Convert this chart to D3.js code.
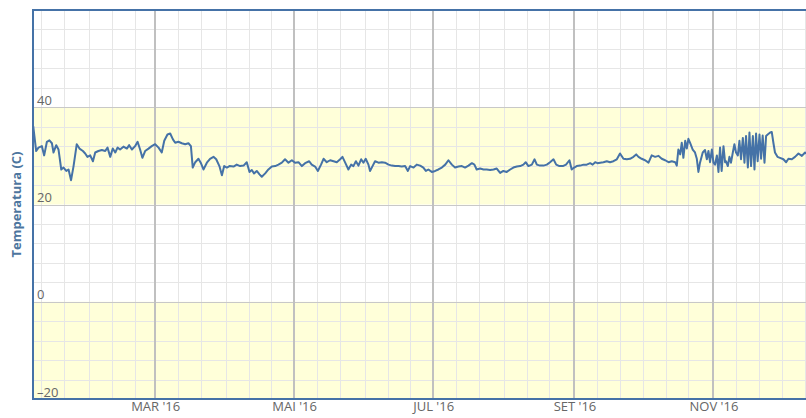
<!DOCTYPE html>
<html>
<head>
<meta charset="utf-8">
<script src="https://cdn.jsdelivr.net/npm/d3@7"></script>
<style>
  html, body { margin: 0; padding: 0; background: #fff; overflow: hidden; }
  svg { display: block; font-family: "Open Sans", "Liberation Sans", Arial, sans-serif; }
</style>
</head>
<body>
<svg id="chart" width="806" height="418"></svg>
<script>
// Daily temperature readings for 2016 (day of year, 0 = 1 Jan; fractions = time of day)
const dayOfYear = [
  6.5, 7.8, 8.8, 10.3, 11.3, 12.5, 13.6, 14.7, 15.4, 16.6, 17.6, 18.8, 19.8, 21.0, 22.0, 23.1,
  24.2, 25.6, 26.8, 28.3, 29.3, 30.3, 31.5, 32.7, 33.7, 35.1, 36.6, 38.1, 39.1, 40.3, 41.4, 42.5,
  43.5, 44.6, 46.1, 47.6, 48.6, 49.8, 51.2, 52.3, 53.4, 54.4, 55.6, 57.1, 58.5, 60.0, 61.5, 62.9,
  64.0, 65.4, 66.6, 67.8, 68.8, 70.2, 71.7, 73.2, 74.6, 75.7, 76.5, 77.6, 79.0, 80.0, 81.2, 82.7,
  84.1, 85.6, 86.8, 88.2, 89.3, 90.3, 91.5, 92.6, 94.4, 95.8, 97.3, 98.8, 100.2, 101.4, 102.4, 103.4,
  104.6, 105.8, 106.8, 108.3, 109.7, 111.2, 112.7, 114.1, 115.6, 117.0,
  118.5, 120.0, 121.4, 122.9, 124.4, 125.8, 127.6, 128.7, 130.2, 131.4, 132.8, 133.9, 135.3, 136.8,
  138.3, 139.7, 141.2, 142.2, 143.4, 144.8, 146.0, 147.0, 148.1, 149.2, 150.4, 151.4, 152.4, 153.6,
  154.3, 155.4, 156.5, 158.0, 159.5, 160.9, 162.4, 163.9, 165.3, 166.8, 168.2, 169.7, 170.9, 171.9,
  173.4, 174.8, 176.3, 177.7, 178.8, 179.9, 181.4, 182.9, 184.3, 185.8, 187.3, 188.7, 190.2, 191.6,
  193.1, 194.6, 196.0, 197.5, 199.0, 200.1, 201.1, 202.6, 204.1, 205.5, 207.0, 208.5, 209.9, 211.4,
  212.8, 214.3, 215.8, 217.2, 218.7, 220.2, 221.6, 222.6, 223.8, 225.3, 226.5, 227.5, 228.9,
  230.4, 231.9, 233.3, 234.8, 236.0, 237.4, 238.9, 240.3, 241.8, 242.8, 243.9, 245.0, 246.5, 248.0,
  249.4, 250.9, 252.0, 253.1, 254.1, 255.3, 256.7, 258.2, 259.6, 261.1, 262.6, 264.0, 265.5, 267.0,
  268.4, 269.9, 271.1, 272.1, 273.5, 275.0, 276.5, 277.9, 279.4, 280.9, 282.3, 283.8, 285.3, 286.7,
  288.2, 288.9, 289.6, 290.4, 291.1, 291.8, 292.6, 293.3, 294.0, 294.8, 295.9, 296.9, 297.7, 298.4,
  299.1, 300.3, 301.3, 302.1, 302.8, 303.5, 304.3, 305.0, 305.7, 306.5, 307.2, 307.9, 308.6, 309.4,
  310.1, 310.5, 311.3, 312.0, 312.7, 313.5, 314.2, 314.9, 315.7, 316.4, 317.1, 317.9, 318.6, 319.3,
  320.1, 320.8, 321.5, 322.3, 323.0, 323.7, 324.4, 325.2, 325.9, 326.6, 327.4, 328.1, 328.8, 329.9,
  330.6, 331.3, 332.0, 333.1, 334.2, 335.7, 336.9, 337.9, 339.4, 340.8, 342.3, 343.8, 345.2, 346.5
];
const temperature = [
  36.1, 31.0, 31.7, 32.0, 30.1, 32.9, 33.2, 32.6, 30.7, 32.2, 31.3, 27.2, 27.6, 26.9, 27.2, 25.0,
  27.9, 32.4, 31.5, 31.0, 30.5, 29.8, 30.1, 28.9, 30.7, 31.0, 31.2, 31.0, 31.7, 29.8, 31.5, 30.7,
  31.7, 31.3, 31.9, 31.5, 32.2, 31.3, 32.0, 32.9, 31.3, 29.6, 31.0, 31.5, 32.0, 32.4, 31.7, 30.7,
  33.1, 34.4, 34.6, 33.4, 32.7, 32.9, 32.6, 32.4, 32.6, 32.0, 27.6, 28.7, 29.4, 28.6, 27.2, 28.6,
  29.4, 29.8, 29.3, 27.9, 26.0, 27.9, 27.6, 27.9, 27.8, 28.2, 27.9, 28.0, 28.7, 26.7, 27.1, 26.4,
  26.9, 26.2, 25.7, 26.4, 27.2, 27.8, 27.9, 28.2, 28.6, 29.3,
  28.6, 29.1, 28.6, 28.7, 27.9, 28.5, 28.9, 28.2, 27.8, 26.9, 28.2, 29.4, 28.7, 29.1,
  28.9, 28.7, 29.3, 29.8, 28.6, 27.2, 28.2, 27.9, 28.9, 28.0, 29.3, 28.6, 29.4, 28.2,
  26.9, 27.9, 28.9, 28.6, 28.7, 28.6, 28.2, 28.0, 27.9, 27.9, 27.8, 27.9, 26.9, 27.9,
  27.6, 28.2, 28.0, 27.6, 26.9, 27.2, 26.7, 26.9, 27.2, 27.6, 28.2, 29.1, 28.2, 27.6,
  27.8, 27.9, 27.6, 28.0, 28.5, 28.2, 27.2, 27.4, 27.2, 27.2, 27.1, 27.2, 27.4, 26.5,
  26.9, 26.7, 27.2, 27.6, 27.8, 27.9, 28.2, 28.7, 27.9, 28.2, 29.3, 28.2, 28.0,
  28.0, 28.2, 28.7, 29.3, 28.2, 27.9, 27.9, 28.2, 29.1, 27.2, 27.6, 27.9, 28.0, 28.2,
  28.2, 28.5, 28.2, 28.7, 28.5, 28.6, 28.7, 28.9, 28.7, 28.9, 29.3, 30.5, 29.4, 29.3,
  29.4, 29.8, 30.3, 29.8, 29.4, 29.1, 28.6, 30.1, 29.8, 30.0, 29.4, 29.1, 28.7, 28.9,
  28.7, 28.0, 31.3, 30.3, 32.7, 29.6, 33.1, 31.5, 33.5, 32.6, 31.3, 30.7, 29.4, 26.7,
  28.6, 30.7, 31.2, 29.3, 31.0, 28.7, 31.3, 28.6, 28.2, 30.1, 26.7, 31.7, 26.9, 32.0,
  28.7, 28.9, 27.9, 29.8, 28.6, 30.7, 32.4, 30.7, 30.1, 33.1, 29.3, 33.7, 28.6, 34.1,
  27.6, 34.8, 27.9, 34.1, 27.2, 34.6, 28.9, 34.4, 29.4, 34.2, 28.6, 34.1, 34.4, 34.8,
  34.9, 32.7, 30.7, 29.8, 29.6, 29.3, 28.7, 29.4, 29.3, 29.8, 30.5, 30.0, 30.7, 30.2
];

// Axis ticks
const yMajorTicks = [-20, 0, 20, 40];
const yMinorStep = 4;
const monthTicks = ["2016-03-01", "2016-05-01", "2016-07-01", "2016-09-01", "2016-11-01"];
const monthLabels = ["MAR '16", "MAI '16", "JUL '16", "SET '16", "NOV '16"];
const minorDaysOfMonth = [1, 11, 21];
const yellowBands = [[20, 40], [-20, 0]];
const yTitle = "Temperatura (C)";

const parseDay = d3.timeParse("%Y-%m-%d");
const yearStart = new Date(2016, 0, 1);
const toDate = d => new Date(yearStart.getTime() + d * 864e5);
const series = dayOfYear.map((d, i) => ({ date: toDate(d), value: temperature[i] }));

const plot = { left: 33, top: 10, bottom: 399, right: 852 };
const svg = d3.select("#chart");

const x = d3.scaleTime()
  .domain([toDate(6.4), toDate(365.8)])
  .range([plot.left, plot.right]);
const y = d3.scaleLinear().domain([-20, 60]).range([plot.bottom, plot.top]);

// plot bands
svg.append("g").selectAll("rect").data(yellowBands).join("rect")
  .attr("x", plot.left)
  .attr("width", plot.right - plot.left)
  .attr("y", d => y(d[1]))
  .attr("height", d => y(d[0]) - y(d[1]))
  .attr("fill", "#ffffd9");

// minor horizontal grid
const yMinor = d3.range(-20, 60 + 0.1, yMinorStep).filter(v => v % 20 !== 0);
svg.append("g").selectAll("line").data(yMinor).join("line")
  .attr("x1", plot.left).attr("x2", plot.right)
  .attr("y1", d => Math.round(y(d)) + 0.5).attr("y2", d => Math.round(y(d)) + 0.5)
  .attr("stroke", "#e6e6e6").attr("stroke-width", 1);

// minor vertical grid (1st, 11th, 21st of each month)
const majorSet = new Set(monthTicks);
const minorDates = [];
d3.timeMonth.range(new Date(2015, 11, 1), new Date(2017, 0, 1)).forEach(m => {
  minorDaysOfMonth.forEach(day => {
    const dt = new Date(m.getFullYear(), m.getMonth(), day);
    if (!majorSet.has(d3.timeFormat("%Y-%m-%d")(dt))) minorDates.push(dt);
  });
});
svg.append("g").selectAll("line").data(minorDates.filter(d => x(d) > plot.left && x(d) < plot.right)).join("line")
  .attr("x1", d => Math.round(x(d)) + 0.5).attr("x2", d => Math.round(x(d)) + 0.5)
  .attr("y1", plot.top).attr("y2", plot.bottom)
  .attr("stroke", "#e6e6e6").attr("stroke-width", 1);

// major horizontal grid
svg.append("g").selectAll("line").data(yMajorTicks.filter(v => v > -20)).join("line")
  .attr("x1", plot.left).attr("x2", plot.right)
  .attr("y1", d => Math.round(y(d)) + 0.5).attr("y2", d => Math.round(y(d)) + 0.5)
  .attr("stroke", "#c8c8c8").attr("stroke-width", 1);

// major vertical grid
svg.append("g").selectAll("line").data(monthTicks.map(parseDay)).join("line")
  .attr("x1", d => Math.round(x(d))).attr("x2", d => Math.round(x(d)))
  .attr("y1", plot.top).attr("y2", plot.bottom)
  .attr("stroke", "#c0c0c0").attr("stroke-width", 2);

// temperature line
svg.append("path")
  .datum(series)
  .attr("fill", "none")
  .attr("stroke", "#4572a7")
  .attr("stroke-width", 2)
  .attr("stroke-linejoin", "round")
  .attr("d", d3.line().x(d => x(d.date)).y(d => y(d.value)));

// plot frame
svg.append("rect")
  .attr("x", plot.left).attr("y", plot.top)
  .attr("width", plot.right - plot.left).attr("height", plot.bottom - plot.top)
  .attr("fill", "none").attr("stroke", "#4572a7").attr("stroke-width", 2);

// y labels (inside plot, above grid line)
const yAxis = d3.axisRight(y).tickValues(yMajorTicks).tickSize(0).tickPadding(0)
  .tickFormat(d => d < 0 ? "\u2013" + Math.abs(d) : d);
const gy = svg.append("g").attr("transform", `translate(${plot.left + 4},0)`).call(yAxis);
gy.select(".domain").remove();
gy.selectAll("text")
  .attr("dy", "-3px")
  .attr("fill", "#666")
  .style("font-size", "13px")
  .style("font-family", "'Open Sans', 'Liberation Sans', Arial, sans-serif");

// x labels
const xAxis = d3.axisBottom(x).tickValues(monthTicks.map(parseDay)).tickSize(0).tickPadding(0)
  .tickFormat((d, i) => monthLabels[i]);
const gx = svg.append("g").attr("transform", `translate(0,${plot.bottom + 3})`).call(xAxis);
gx.select(".domain").remove();
gx.selectAll("text")
  .attr("fill", "#666")
  .style("font-size", "13px")
  .style("font-family", "'Open Sans', 'Liberation Sans', Arial, sans-serif");

// y axis title
svg.append("text")
  .attr("transform", `translate(21,${(plot.top + plot.bottom) / 2}) rotate(-90)`)
  .attr("text-anchor", "middle")
  .attr("fill", "#4d759e")
  .style("font-size", "13px")
  .style("font-weight", "bold")
  .text(yTitle);
</script>
</body>
</html>
